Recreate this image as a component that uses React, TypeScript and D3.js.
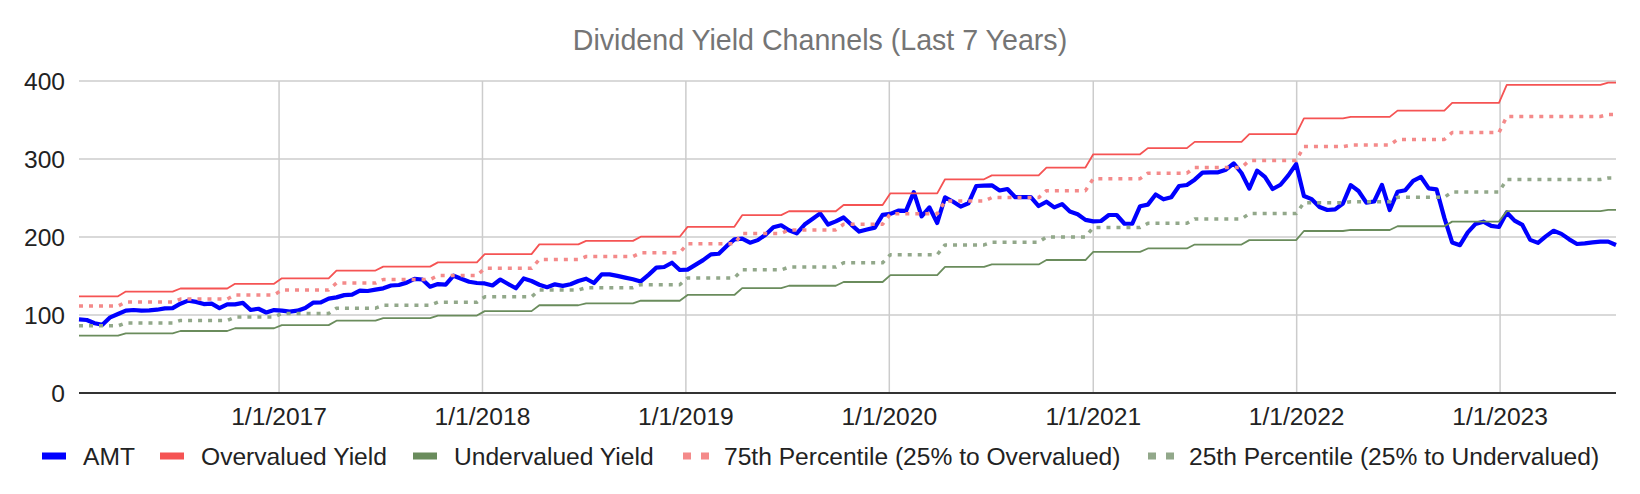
import { useEffect, useRef } from "react";
import * as d3 from "d3";

// biweekly samples starting here
const startDate = "2016-01-08";
const stepDays = 14;

// AMT price, one value per sample
const amt = [
  94.4, 93.6, 89.5, 87.5, 97, 101.3, 105.6, 106.4, 105.6, 106,
  106.8, 108.5, 108.8, 114.5, 118.4, 116.8, 114, 114.5, 108.8, 113.7,
  113.7, 115.5, 106.4, 108, 103.2, 106.3, 105.6, 104.3, 105.5, 109,
  115.8, 116.2, 121, 122.6, 125.5, 126, 131.2, 130.8, 132.6, 134.2,
  137.8, 138.5, 141.5, 146.4, 145.5, 136.3, 139.6, 139, 150.4, 146.5,
  142.6, 141, 140.5, 137.8, 145.5, 139.8, 134.3, 146.8, 143.6, 138.8,
  135.7, 139.3, 137.3, 139.5, 143.6, 146.5, 141, 152.1, 152.1, 150.2,
  147.9, 145.8, 143, 151.5, 160.7, 161.5, 167, 157.7, 158.2, 164.3,
  170.4, 177.8, 178.5, 188.3, 197, 197.8, 192.7, 196, 203, 212.6,
  215, 208.7, 204.7, 216, 223, 230.3, 216, 220, 225, 215.6,
  207, 209.6, 212, 228.3, 229.6, 233.7, 233.5, 257.5, 226.5, 238,
  218, 250.8, 245.5, 239, 243.2, 265.4, 265.8, 266.2, 259.6, 261.5,
  251, 251, 251, 239.7, 245.2, 238, 242.2, 232.6, 229.2, 222,
  220, 220.5, 228.2, 228.2, 217, 217, 239.5, 241.5, 254.5, 248.3,
  251, 265.4, 266.7, 273.5, 282.5, 282.9, 282.9, 286.3, 294.4, 282,
  262, 285, 277, 261.5, 267, 279, 293.5, 252.5, 248.5, 238.5,
  234.6, 235.5, 243, 266.5, 259, 244, 245.5, 266.7, 234.6, 258,
  260, 272, 277, 262.4, 261, 224.5, 193, 189.5, 206, 216.8,
  219.6, 214.3, 212.8, 231.5, 221, 215.5, 196.3, 192.5, 200.8, 208,
  204, 197, 191, 191.8, 193.1, 194, 194, 189.8,
];

// dates where the dividend, and so every channel, steps up
const stepDates = [
  "2016-03-24", "2016-07-03", "2016-10-09", "2016-12-31",
  "2017-04-05", "2017-07-02", "2017-10-06", "2017-12-28",
  "2018-04-05", "2018-06-29", "2018-10-05", "2018-12-29",
  "2019-04-05", "2019-06-28", "2019-10-03", "2019-12-26",
  "2020-04-03", "2020-06-26", "2020-10-03", "2020-12-24",
  "2021-04-02", "2021-06-25", "2021-10-02", "2022-01-07",
  "2022-04-01", "2022-06-22", "2022-09-27", "2023-01-02",
  "2023-07-04",
];

// channel levels, one per period between step dates
const overvalued = [124, 130, 134, 140, 147, 157, 162, 167.5, 178, 190.6, 195, 200.4, 213, 228, 233, 241, 256, 274, 279, 289, 306, 314, 322, 332, 352, 354, 362, 372, 395, 398];
const undervalued = [73.5, 76.5, 79.5, 83, 87, 92.7, 96, 99.3, 105, 112.5, 115, 118.3, 125.7, 134.5, 137.5, 142.3, 151.2, 161.8, 164.8, 170.5, 181, 185.3, 190.3, 196, 207.7, 209, 213.8, 219.7, 233.2, 234.8];
const pct75 = [111.4, 116.6, 120.4, 125.8, 132, 140.9, 145.5, 150.5, 159.8, 171.1, 175, 179.9, 191.2, 204.6, 209.1, 216.3, 229.8, 246, 250.5, 259.4, 274.8, 281.8, 289.1, 298, 315.9, 317.8, 325, 333.9, 354.5, 357.2];
const pct25 = [86.1, 89.9, 93.1, 97.3, 102, 108.8, 112.5, 116.4, 123.3, 132, 135, 138.8, 147.5, 157.9, 161.4, 167, 177.4, 189.9, 193.4, 200.1, 212.3, 217.5, 223.2, 230, 243.8, 245.3, 250.9, 257.8, 273.7, 275.6];

const yTicks = [0, 100, 200, 300, 400];
const xTickYears = [2017, 2018, 2019, 2020, 2021, 2022, 2023];

const W = 1640;
const H = 494;
const FONT = "'Liberation Sans', Arial, sans-serif";
const LABEL_SIZE = 24.6;

type Series = { name: string; color: string; width: number; dotted: boolean; values: number[] };

export default function App() {
  const ref = useRef<SVGSVGElement>(null);

  useEffect(() => {
    if (!ref.current) return;
    const svg = d3.select(ref.current);
    svg.selectAll("*").remove();

    const parse = d3.timeParse("%Y-%m-%d");
    const t0 = parse(startDate) as Date;
    const dates = amt.map((_, i) => d3.timeDay.offset(t0, stepDays * i));
    const steps = stepDates.map((s) => parse(s) as Date);
    const level = (arr: number[]) => dates.map((d) => arr[d3.bisectRight(steps, d)]);

    const series: Series[] = [
      { name: "AMT", color: "#0000ff", width: 4.2, dotted: false, values: amt },
      { name: "Overvalued Yield", color: "#f55353", width: 1.8, dotted: false, values: level(overvalued) },
      { name: "Undervalued Yield", color: "#6a8c5c", width: 1.8, dotted: false, values: level(undervalued) },
      { name: "75th Percentile (25% to Overvalued)", color: "#f48a8a", width: 3.5, dotted: true, values: level(pct75) },
      { name: "25th Percentile (25% to Undervalued)", color: "#92a88a", width: 3.5, dotted: true, values: level(pct25) },
    ];

    const x = d3.scaleTime().domain(d3.extent(dates) as [Date, Date]).range([79, 1616]);
    const y = d3.scaleLinear().domain([0, 400]).range([393, 81]);

    svg.append("rect").attr("width", W).attr("height", H).attr("fill", "#fff");

    svg
      .append("text")
      .attr("x", 820)
      .attr("y", 40)
      .attr("text-anchor", "middle")
      .attr("dominant-baseline", "central")
      .attr("font-family", FONT)
      .attr("font-size", 28.6)
      .attr("fill", "#757575")
      .text("Dividend Yield Channels (Last 7 Years)");

    // gridlines
    const grid = svg.append("g");
    grid
      .selectAll("line.h")
      .data(yTicks.filter((t) => t > 0))
      .join("line")
      .attr("x1", 79)
      .attr("x2", 1616)
      .attr("y1", (d) => y(d))
      .attr("y2", (d) => y(d))
      .attr("stroke", "#cccccc")
      .attr("stroke-width", 1.5);
    const yearDates = xTickYears.map((yr) => new Date(yr, 0, 1));
    grid
      .selectAll("line.v")
      .data(yearDates)
      .join("line")
      .attr("x1", (d) => x(d))
      .attr("x2", (d) => x(d))
      .attr("y1", y(400))
      .attr("y2", y(0))
      .attr("stroke", "#cccccc")
      .attr("stroke-width", 1.5);

    svg
      .append("g")
      .selectAll("text")
      .data(yTicks)
      .join("text")
      .attr("x", 65)
      .attr("y", (d) => y(d))
      .attr("text-anchor", "end")
      .attr("dominant-baseline", "central")
      .attr("font-family", FONT)
      .attr("font-size", LABEL_SIZE)
      .attr("fill", "#222")
      .text((d) => d);

    const fmt = d3.timeFormat("%-m/%-d/%Y");
    svg
      .append("g")
      .selectAll("text")
      .data(yearDates)
      .join("text")
      .attr("x", (d) => x(d))
      .attr("y", 416)
      .attr("text-anchor", "middle")
      .attr("dominant-baseline", "central")
      .attr("font-family", FONT)
      .attr("font-size", LABEL_SIZE)
      .attr("fill", "#222")
      .text((d) => fmt(d));

    const line = d3
      .line<number>()
      .x((_, i) => x(dates[i]))
      .y((d) => y(d));

    svg
      .append("g")
      .selectAll("path")
      .data(series)
      .join("path")
      .attr("d", (s) => line(s.values))
      .attr("fill", "none")
      .attr("stroke", (s) => s.color)
      .attr("stroke-width", (s) => s.width)
      .attr("stroke-linejoin", "round")
      .attr("stroke-dasharray", (s) => (s.dotted ? "4 6" : null));

    // baseline
    svg
      .append("line")
      .attr("x1", 79)
      .attr("x2", 1616)
      .attr("y1", y(0))
      .attr("y2", y(0))
      .attr("stroke", "#333")
      .attr("stroke-width", 2);

    // legend
    const legendX = [42, 160, 413, 683, 1148];
    const ly = 456;
    const lg = svg.append("g");
    series.forEach((s, i) => {
      const lx = legendX[i];
      if (s.dotted) {
        [0, 18].forEach((dx) =>
          lg.append("rect").attr("x", lx + dx).attr("y", ly - 3.5).attr("width", 8).attr("height", 7).attr("fill", s.color)
        );
      } else {
        lg.append("rect").attr("x", lx).attr("y", ly - 3.5).attr("width", 24).attr("height", 7).attr("fill", s.color);
      }
      lg.append("text")
        .attr("x", lx + 41)
        .attr("y", ly)
        .attr("dominant-baseline", "central")
        .attr("font-family", FONT)
        .attr("font-size", LABEL_SIZE)
        .attr("fill", "#222")
        .text(s.name);
    });
  }, []);

  return <svg ref={ref} width={W} height={H} style={{ position: "absolute", left: 0, top: 0 }} />;
}
